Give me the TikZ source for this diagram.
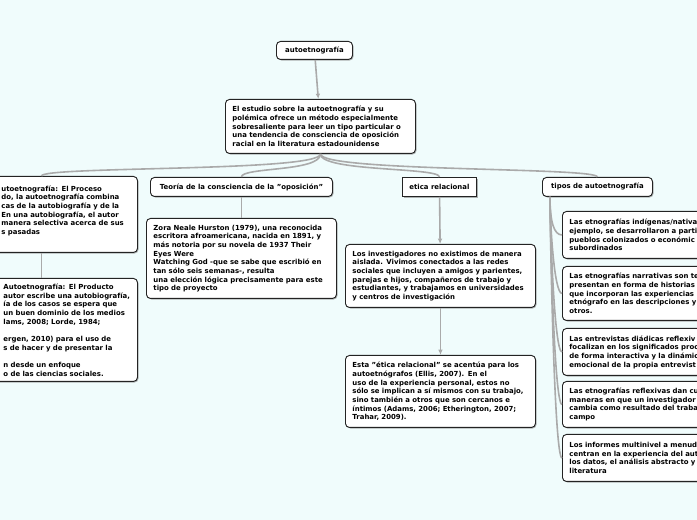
\documentclass[tikz,border=0pt]{standalone}
\usepackage{fontspec}
\setmainfont{DejaVu Sans}
\usepackage{xcolor}
\usetikzlibrary{positioning,arrows.meta,shadows}

\definecolor{paper}{RGB}{240,252,252}
\definecolor{linkgray}{RGB}{170,170,170}
\definecolor{edge}{RGB}{35,35,35}

\begin{document}
\begin{tikzpicture}[x=0.75pt, y=-0.75pt,
    card/.style={draw=edge, line width=0.7pt, rounded corners=3pt, fill=white,
                 font=\fontsize{5.2}{6.5}\selectfont\bfseries, align=left,
                 anchor=north west, inner xsep=5.25pt, inner ysep=2pt,
                 drop shadow={shadow xshift=0.8pt, shadow yshift=-0.8pt,
                              fill=black!50, opacity=0.6}},
    topic/.style={card, align=center},
    link/.style={draw=linkgray, line width=1.2pt},
    arrow/.style={link, -{Latex[length=4pt,width=3.5pt]}}
]
\fill[paper] (0,0) rectangle (697,520);
\useasboundingbox (0,0) rectangle (697,520);
\clip (0,0) rectangle (697,520);

% root and main idea
\node[topic, minimum width=57pt, minimum height=13.5pt] (root) at (276,41) {autoetnografía};
\node[card, text width=132pt, minimum height=40.5pt] (main) at (225,99)
    {El estudio sobre la autoetnografía y su\\
     polémica ofrece un método especialmente\\
     sobresaliente para leer un tipo particular o\\
     una tendencia de consciencia de oposición\\
     racial en la literatura estadounidense};

% left branch (cut by the page edge)
\node[card, text width=133.5pt, minimum height=57pt] (proceso) at (-55,176)
    {\leftskip=36.75pt\relax
     utoetnografía: El Proceso\\
     do, la autoetnografía combina\\
     cas de la autobiografía y de la\\
     En una autobiografía, el autor\\
     manera selectiva acerca de sus\\
     s pasadas\\ \mbox{}\par};
\node[card, text width=133.5pt, minimum height=77.25pt] (producto) at (-55,278)
    {\leftskip=38.25pt\relax
     Autoetnografía: El Producto\\
     autor escribe una autobiografía,\\
     ía de los casos se espera que\\
     un buen dominio de los medios\\
     lams, 2008; Lorde, 1984;\\
     \mbox{}\\
     ergen, 2010) para el uso de\\
     s de hacer y de presentar la\\
     \mbox{}\\
     n desde un enfoque\\
     o de las ciencias sociales.\par};

% middle branches
\node[topic, minimum width=136.5pt, minimum height=14.25pt] (teoria) at (150,177)
    {Teoría de la consciencia de la "oposición"};
\node[card, text width=132pt, minimum height=60pt] (zora) at (146,218)
    {Zora Neale Hurston (1979), una reconocida\\
     escritora afroamericana, nacida en 1891, y\\
     más notoria por su novela de 1937 Their\\
     Eyes Were\\
     Watching God -que se sabe que escribió en\\
     tan sólo seis semanas-, resulta\\
     una elección lógica precisamente para este\\
     tipo de proyecto};

\node[topic, rounded corners=0pt, minimum width=55.5pt, minimum height=14.25pt] (etica) at (402,177)
    {etica relacional};
\node[card, text width=132pt, minimum height=47.25pt] (invest) at (345,244)
    {Los investigadores no existimos de manera\\
     aislada. Vivimos conectados a las redes\\
     sociales que incluyen a amigos y parientes,\\
     parejas e hijos, compañeros de trabajo y\\
     estudiantes, y trabajamos en universidades\\
     y centros de investigación};
\node[card, text width=132pt, minimum height=54pt] (esta) at (345,355)
    {Esta "ética relacional" se acentúa para los\\
     autoetnógrafos (Ellis, 2007). En el\\
     uso de la experiencia personal, estos no\\
     sólo se implican a sí mismos con su trabajo,\\
     sino también a otros que son cercanos e\\
     íntimos (Adams, 2006; Etherington, 2007;\\
     Trahar, 2009).};

% right branch (cut by the page edge)
\node[topic, minimum width=82.5pt, minimum height=14.25pt] (tipos) at (542,177)
    {tipos de autoetnografía};
\node[card, text width=132pt, minimum height=35.25pt] (r1) at (562,211)
    {Las etnografías indígenas/nativa\\
     ejemplo, se desarrollaron a parti\\
     pueblos colonizados o económic\\
     subordinados};
\node[card, text width=132pt, minimum height=40.5pt] (r2) at (562,266)
    {Las etnografías narrativas son te\\
     presentan en forma de historias\\
     que incorporan las experiencias\\
     etnógrafo en las descripciones y\\
     otros.};
\node[card, text width=132pt, minimum height=35.25pt] (r3) at (562,328)
    {Las entrevistas diádicas reflexiv\\
     focalizan en los significados proc\\
     de forma interactiva y la dinámic\\
     emocional de la propia entrevist};
\node[card, text width=132pt, minimum height=34.5pt] (r4) at (562,381)
    {Las etnografías reflexivas dan cu\\
     maneras en que un investigador\\
     cambia como resultado del traba\\
     campo};
\node[card, text width=132pt, minimum height=35.25pt] (r5) at (562,434)
    {Los informes multinivel a menud\\
     centran en la experiencia del aut\\
     los datos, el análisis abstracto y\\
     literatura};

% connectors
\draw[arrow] (root) -- (main);
\foreach \kid in {proceso,teoria,etica,tipos} {
    \draw[link] (main.south) .. controls +(0,18) and +(0,-10) .. (\kid.north);
}
\draw[link] (proceso) -- (producto);
\draw[link] (teoria) -- (zora);
\draw[arrow] (etica) -- (invest);
\draw[arrow] (invest) -- (esta);
\foreach \r in {r1,r2,r3,r4,r5} {
    \draw[link] ([xshift=6pt]tipos.south west) .. controls +(0,25) and +(-8,0) .. (\r.west);
}
\end{tikzpicture}
\end{document}
